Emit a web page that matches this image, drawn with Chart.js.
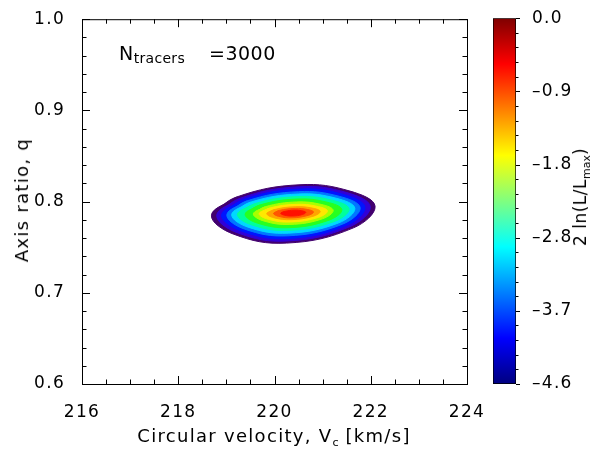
<!DOCTYPE html>
<html>
<head>
<meta charset="utf-8">
<script src="https://cdn.jsdelivr.net/npm/chart.js@4.4.0/dist/chart.umd.min.js"></script>
<style>
  html, body { margin: 0; padding: 0; background: #fff; }
  #wrap { position: relative; width: 592px; height: 449px; font-family: "DejaVu Sans", sans-serif; color: #000; overflow: hidden; }
  #main { position: absolute; left: 0; top: 0; }
  #cbar { position: absolute; left: 493px; top: 0; }
  .lbl { position: absolute; white-space: nowrap; font-size: 18px; line-height: 1; letter-spacing: 1.3px; }
  .lbl sub { font-size: 11px; vertical-align: -4px; letter-spacing: 0; }
  #xtitle { left: 274px; top: 437px; transform: translate(-50%, -50%); }
  #ytitle { left: 22px; top: 200px; transform: translate(-50%, -50%) rotate(-90deg); }
  #ctitle { left: 582px; top: 197px; transform: translate(-50%, -50%) rotate(-90deg); font-size: 17px; letter-spacing: 0.5px; }
  #ntr { left: 119px; top: 44px; font-size: 19px; letter-spacing: 0.5px; }
  #ntr sub { font-size: 14px; vertical-align: -3px; letter-spacing: 0.3px; }
  #ntr span { margin-left: 24px; }
</style>
</head>
<body>
<div id="wrap">
  <canvas id="main" width="592" height="449"></canvas>
  <canvas id="cbar" width="99" height="449"></canvas>
  <div class="lbl" id="xtitle">Circular velocity, V<sub>c</sub> [km/s]</div>
  <div class="lbl" id="ytitle">Axis ratio, q</div>
  <div class="lbl" id="ctitle">2 ln(L/L<sub>max</sub>)</div>
  <div class="lbl" id="ntr">N<sub>tracers</sub><span>=3000</span></div>
</div>
<script>
// axes
const xTicks = [216, 218, 220, 222, 224];
const yTicks = [0.6, 0.7, 0.8, 0.9, 1.0];
const xMinorStep = 0.5;
const yMinorStep = 0.02;

// colour bar: 2 ln(L/Lmax)
const cbarTicks = [0.0, -0.92, -1.84, -2.76, -3.68, -4.6];
const cbarMinorStep = 0.184;

// contour levels, outermost first, and their fill colours
const levels = [-4.6, -4.2, -3.8, -3.4, -3.0, -2.6, -2.2, -1.8, -1.4, -1.0, -0.6, -0.25];
const levelColors = ['#42006e', '#3000d8', '#0014ff', '#0078ff', '#00d8ff', '#00ff9c',
                     '#28ff20', '#a8ff00', '#ffe800', '#ffa400', '#ff5600', '#ff1000'];

// contour outlines: [Vc, q]  (left, upper-left, top, upper-right, right, lower-right, bottom, lower-left)
const c01 = [[218.69,0.7850],[219.21,0.8050],[220.53,0.8185],[221.57,0.8115],[222.09,0.7949],[221.64,0.7712],[220.25,0.7545],[219.14,0.7645]];
const c02 = [[218.80,0.7851],[219.29,0.8037],[220.52,0.8163],[221.50,0.8099],[221.99,0.7944],[221.56,0.7724],[220.26,0.7568],[219.22,0.7660]];
const c03 = [[218.90,0.7853],[219.36,0.8023],[220.51,0.8137],[221.43,0.8079],[221.88,0.7938],[221.49,0.7737],[220.27,0.7595],[219.30,0.7680]];
const c04 = [[219.01,0.7855],[219.43,0.8008],[220.50,0.8109],[221.35,0.8057],[221.78,0.7932],[221.41,0.7752],[220.28,0.7625],[219.37,0.7700]];
const c05 = [[219.11,0.7858],[219.50,0.7993],[220.50,0.8083],[221.28,0.8037],[221.67,0.7926],[221.33,0.7766],[220.29,0.7654],[219.45,0.7720]];
const c06 = [[219.23,0.7860],[219.59,0.7977],[220.49,0.8055],[221.20,0.8015],[221.55,0.7919],[221.24,0.7781],[220.30,0.7685],[219.54,0.7742]];
const c07 = [[219.39,0.7862],[219.69,0.7962],[220.47,0.8028],[221.09,0.7994],[221.40,0.7912],[221.13,0.7796],[220.31,0.7714],[219.65,0.7763]];
const c08 = [[219.56,0.7865],[219.81,0.7944],[220.46,0.7996],[220.97,0.7969],[221.22,0.7904],[221.00,0.7812],[220.32,0.7749],[219.78,0.7787]];
const c09 = [[219.68,0.7867],[219.90,0.7929],[220.45,0.7970],[220.88,0.7949],[221.10,0.7898],[220.91,0.7826],[220.33,0.7776],[219.87,0.7806]];
const c10 = [[219.84,0.7869],[220.01,0.7914],[220.44,0.7944],[220.78,0.7929],[220.95,0.7892],[220.80,0.7839],[220.35,0.7802],[219.98,0.7824]];
const c11 = [[219.98,0.7870],[220.10,0.7903],[220.43,0.7925],[220.68,0.7914],[220.81,0.7887],[220.70,0.7849],[220.36,0.7822],[220.09,0.7838]];
const c12 = [[220.13,0.7872],[220.21,0.7892],[220.41,0.7906],[220.57,0.7899],[220.65,0.7882],[220.58,0.7858],[220.37,0.7842],[220.20,0.7852]];
const contours = [c01, c02, c03, c04, c05, c06, c07, c08, c09, c10, c11, c12];

// colour table for the bar (bottom -> top)
const cbarStops = [[0, '#00007f'], [0.125, '#0000ff'], [0.375, '#00ffff'], [0.625, '#ffff00'], [0.875, '#ff0000'], [1, '#7f0000']];

const tickFont = { family: 'DejaVu Sans', size: 17 };

// IDL style ticks: pointing inwards on all four sides, with minor ticks
function drawTicks(ctx, scale, from, to, step, majors, pos, area, majLen, minLen) {
    const n = Math.round((to - from) / step);
    for (let i = 0; i <= n; i++) {
        const v = from + i * step;
        const isMajor = majors.some(m => Math.abs(m - v) < step / 10);
        const len = isMajor ? majLen : minLen;
        const p = Math.round(scale.getPixelForValue(v)) + 0.5;
        ctx.beginPath();
        if (pos === 'x') {
            ctx.moveTo(p, area.bottom); ctx.lineTo(p, area.bottom - len);
            ctx.moveTo(p, area.top); ctx.lineTo(p, area.top + len);
        } else if (pos === 'y') {
            ctx.moveTo(area.left, p); ctx.lineTo(area.left + len, p);
            ctx.moveTo(area.right, p); ctx.lineTo(area.right - len, p);
        } else {
            ctx.moveTo(area.right, p); ctx.lineTo(area.right + len, p);
        }
        ctx.stroke();
    }
}

const frameTicks = {
    id: 'frameTicks',
    beforeDraw(chart) {
        chart.ctx.letterSpacing = '1.3px';
    },
    afterDraw(chart) {
        const { ctx, chartArea: a } = chart;
        ctx.save();
        ctx.strokeStyle = '#000';
        ctx.lineWidth = 1;
        if (chart.canvas.id === 'main') {
            ctx.strokeRect(a.left + 0.5, a.top + 0.5, a.right - a.left, a.bottom - a.top);
            drawTicks(ctx, chart.scales.x, xTicks[0], xTicks[xTicks.length - 1], xMinorStep, xTicks, 'x', a, 8, 4.5);
            drawTicks(ctx, chart.scales.y, yTicks[0], yTicks[yTicks.length - 1], yMinorStep, yTicks, 'y', a, 8, 4.5);
        } else {
            drawTicks(ctx, chart.scales.y, cbarTicks[cbarTicks.length - 1], cbarTicks[0], cbarMinorStep, cbarTicks, 'c', a, 4, 2.5);
        }
        ctx.restore();
    }
};

// closed outlines: run once round and on past the first two points again,
// so the spline is smooth where the loop joins
const datasets = contours.map((pts, i) => ({
    data: pts.concat([pts[0], pts[1]]),
    showLine: true,
    fill: 'shape',
    tension: 0.4,
    pointRadius: 0,
    borderWidth: 1,
    borderColor: levelColors[i],
    backgroundColor: levelColors[i],
    order: contours.length - i
}));

new Chart(document.getElementById('main'), {
    type: 'scatter',
    data: { datasets: datasets },
    options: {
        responsive: false,
        animation: false,
        events: [],
        layout: { padding: { top: 10, right: 125, bottom: 0, left: 0 } },
        plugins: { legend: { display: false }, tooltip: { enabled: false } },
        scales: {
            x: {
                type: 'linear', min: 216, max: 224,
                afterBuildTicks: s => { s.ticks = xTicks.map(v => ({ value: v })); },
                ticks: { font: tickFont, color: '#000', padding: 10, maxRotation: 0 },
                grid: { display: false }, border: { display: false },
                afterFit: s => { s.height = 65; }
            },
            y: {
                type: 'linear', min: 0.6, max: 1.0,
                afterBuildTicks: s => { s.ticks = yTicks.map(v => ({ value: v })); },
                ticks: { font: tickFont, color: '#000', padding: 9, callback: v => v.toFixed(1) },
                grid: { display: false }, border: { display: false },
                afterFit: s => { s.width = 82; }
            }
        }
    },
    plugins: [frameTicks]
});

new Chart(document.getElementById('cbar'), {
    type: 'bar',
    data: {
        labels: [''],
        datasets: [{
            data: [[cbarTicks[cbarTicks.length - 1], cbarTicks[0]]],
            backgroundColor: c => {
                const a = c.chart.chartArea;
                if (!a) return '#0000ff';
                const g = c.chart.ctx.createLinearGradient(0, a.bottom, 0, a.top);
                cbarStops.forEach(s => g.addColorStop(s[0], s[1]));
                return g;
            },
            borderColor: '#000',
            borderWidth: 1,
            borderSkipped: false,
            barPercentage: 1,
            categoryPercentage: 1
        }]
    },
    options: {
        responsive: false,
        animation: false,
        events: [],
        layout: { padding: { top: 10, bottom: 65, left: 0, right: 0 } },
        plugins: { legend: { display: false }, tooltip: { enabled: false } },
        scales: {
            x: { display: false },
            y: {
                position: 'right', min: -4.6, max: 0,
                afterBuildTicks: s => { s.ticks = cbarTicks.map(v => ({ value: v })); },
                ticks: { font: tickFont, color: '#000', padding: 8, callback: v => v.toFixed(1).replace('-', '\u2013') },
                grid: { display: false }, border: { display: false },
                afterFit: s => { s.width = 76; }
            }
        }
    },
    plugins: [frameTicks]
});
</script>
</body>
</html>
